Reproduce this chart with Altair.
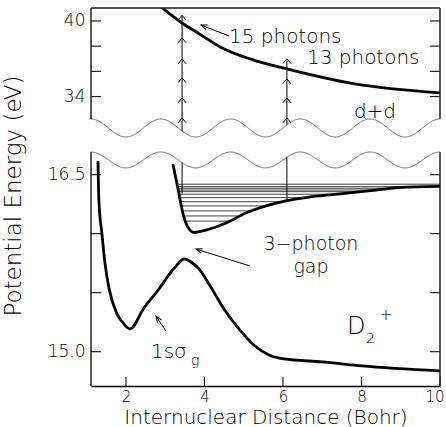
import altair as alt
import numpy as np
import pandas as pd

FONT = "DejaVu Sans"
FW = 200

XMIN, XMAX = 1.11, 10.0
TOP_DOM = [30.79, 41.03]
BOT_DOM = [14.709, 16.692]
W, H_TOP, H_BOT = 349, 129, 234

# ---------------- data ----------------
# repulsive d+d Coulomb curve seen with 13/15 photons (top panel)
upper_x = [2.90, 3.43, 3.86, 4.45, 5.20, 6.10, 7.83, 10.0]
upper_y = [41.10, 39.84, 39.00, 37.86, 36.95, 36.19, 35.00, 34.29]

# dressed 1s sigma_g curve (bottom panel)
sg_x = [1.287, 1.312, 1.389, 1.465, 1.567, 1.771, 1.949, 2.102, 2.459, 2.841, 3.146,
        3.350, 3.478, 3.656, 3.860, 4.115, 4.497, 4.879, 5.287, 5.643, 6.025, 6.994,
        8.013, 10.0]
sg_y = [16.616, 16.277, 15.997, 15.752, 15.540, 15.320, 15.235, 15.192, 15.370, 15.531,
        15.675, 15.752, 15.786, 15.760, 15.701, 15.574, 15.362, 15.193, 15.048, 14.972,
        14.938, 14.913, 14.879, 14.837]

# upper adiabatic well (bottom panel)
well_x = [3.197, 3.35, 3.452, 3.554, 3.732, 4.038, 4.548, 5.057, 5.567, 6.102,
          6.662, 7.248, 8.115, 8.955, 10.0]
well_y = [16.59, 16.34, 16.17, 16.07, 16.01, 16.03, 16.09, 16.175, 16.235, 16.28,
          16.31, 16.33, 16.36, 16.39, 16.40]

# vibrational levels in the upper well
levels = [16.419, 16.398, 16.385, 16.370, 16.356, 16.334, 16.305, 16.271,
          16.235, 16.193, 16.150, 16.106]

# photon ladders
ladder_R = [3.43, 6.10]
ladder_top = [40.45, 37.0]
ladder_low_end = [16.34, 16.28]
heads_left = [32.30, 33.89, 35.48, 36.98, 38.65, 40.45]
heads_right = [32.30, 33.89, 35.40, 37.0]

# axis ticks / labels
top_ticks = [34, 36, 38, 40]
top_labels = [34, 40]
bot_ticks = [15.0, 15.5, 16.0, 16.5]
bot_labels = [15.0, 16.5]
x_ticks = [2, 4, 6, 8, 10]

# ---------------- helpers ----------------
xsc = alt.Scale(domain=[XMIN, XMAX], nice=False, zero=False)
ytsc = alt.Scale(domain=TOP_DOM, nice=False, zero=False)
ybsc = alt.Scale(domain=BOT_DOM, nice=False, zero=False)

common_ax = dict(title=None, domain=False, ticks=False, tickSize=0, grid=False,
                 labelFontSize=17, labelPadding=6, labelColor="black", labelFont=FONT,
                 labelFontWeight=FW)
ax_top_y = alt.Axis(values=top_labels, format="d", **common_ax)
ax_bot_y = alt.Axis(values=bot_labels, format=".1f", **common_ax)
ax_bot_x = alt.Axis(values=x_ticks, format="d", title="Internuclear Distance (Bohr)",
                    domain=True, domainColor="black", domainWidth=1.5, ticks=False,
                    tickSize=0, grid=False, labelFontSize=15, labelPadding=3,
                    labelColor="black", labelFont=FONT, labelFontWeight=FW, labelFlush=True,
                    labelFlushOffset=4, titleFontSize=20, titleFontWeight=FW,
                    titleColor="black", titleFont=FONT, titleBaseline="alphabetic",
                    titleY=37)


def XT(f):
    return alt.X(f, type="quantitative", scale=xsc, axis=None)


def YT(f):
    return alt.Y(f, type="quantitative", scale=ytsc, axis=ax_top_y)


def XB(f):
    return alt.X(f, type="quantitative", scale=xsc, axis=ax_bot_x)


def YB(f):
    return alt.Y(f, type="quantitative", scale=ybsc, axis=ax_bot_y)


PERIOD = (XMAX - XMIN) / 5.0


def wave(x, c, a):
    return c + a * np.cos(2 * np.pi * (np.asarray(x) - XMIN) / PERIOD)


WT = (31.505, 0.715)
WB = (16.6245, 0.0675)
xw = np.linspace(XMIN, XMAX, 400)

CHEV = "M-1,1.2L0,0L1,1.2"
HEAD = "M-0.6,1.6L0,0L0.6,1.6"
FRAME = dict(color="#222222", strokeWidth=1.5)
TXT = dict(font=FONT, fontWeight=FW, color="black")

# ---------------- top panel ----------------
t_wave = alt.Chart(pd.DataFrame({"x": xw, "y": wave(xw, *WT)})).mark_line(
    color="#707070", strokeWidth=1).encode(x=XT("x"), y=YT("y"))

t_sides = alt.Chart(pd.DataFrame({"x": [XMIN, XMAX], "y": [wave(XMIN, *WT)] * 2,
                                  "y2": [TOP_DOM[1]] * 2})).mark_rule(**FRAME).encode(
    x=XT("x"), y=YT("y"), y2="y2")
t_topline = alt.Chart(pd.DataFrame({"x": [XMIN], "x2": [XMAX], "y": [TOP_DOM[1]]})).mark_rule(
    **FRAME).encode(x=XT("x"), x2="x2", y=YT("y"))

t_ticks_l = alt.Chart(pd.DataFrame({"v": top_ticks})).mark_rule(color="#222", strokeWidth=1.2).encode(
    y=YT("v"), x=alt.value(0), x2=alt.value(10))
t_ticks_r = alt.Chart(pd.DataFrame({"v": top_ticks})).mark_rule(color="#222", strokeWidth=1.2).encode(
    y=YT("v"), x=alt.value(W - 10), x2=alt.value(W))

t_curve = alt.Chart(pd.DataFrame({"x": upper_x, "y": upper_y})).mark_line(
    color="black", strokeWidth=2.8, clip=True, interpolate="monotone").encode(x=XT("x"), y=YT("y"))

t_cols = alt.Chart(pd.DataFrame({"x": ladder_R, "y": wave(ladder_R, *WT), "y2": ladder_top})).mark_rule(
    color="black", strokeWidth=1).encode(x=XT("x"), y=YT("y"), y2="y2")

heads_df = pd.DataFrame({"x": [ladder_R[0]] * len(heads_left) + [ladder_R[1]] * len(heads_right),
                         "y": heads_left + heads_right})
t_heads = alt.Chart(heads_df).mark_point(shape=CHEV, filled=False, size=64, strokeWidth=1,
                                         color="black", opacity=1).encode(x=XT("x"), y=YT("y"))

t_txt_left = alt.Chart(pd.DataFrame({"x": [4.624, 6.611], "y": [38.28, 36.56],
                                     "t": ["15 photons", "13 photons"]})).mark_text(
    align="left", baseline="alphabetic", fontSize=20, **TXT).encode(
    x=XT("x"), y=YT("y"), text="t:N")
t_txt_dd = alt.Chart(pd.DataFrame({"x": [8.344], "y": [32.30], "t": ["d+d"]})).mark_text(
    align="center", baseline="alphabetic", fontSize=20, **TXT).encode(
    x=XT("x"), y=YT("y"), text="t:N")

arrow1 = pd.DataFrame({"x": [4.624], "y": [38.81], "x2": [3.911], "y2": [39.68], "ang": [291.4]})
t_arr = alt.Chart(arrow1).mark_rule(color="black", strokeWidth=1).encode(
    x=XT("x"), y=YT("y"), x2="x2", y2="y2")
t_arr_head = alt.Chart(arrow1).mark_point(shape=HEAD, filled=False, size=64, strokeWidth=1,
                                          color="black", opacity=1).encode(
    x=XT("x2"), y=YT("y2"), angle=alt.Angle("ang:Q", scale=None))

top = alt.layer(t_wave, t_sides, t_topline, t_ticks_l, t_ticks_r, t_curve, t_cols, t_heads,
                t_txt_left, t_txt_dd, t_arr, t_arr_head).properties(width=W, height=H_TOP)

# ---------------- bottom panel ----------------
b_wave = alt.Chart(pd.DataFrame({"x": xw, "y": wave(xw, *WB)})).mark_line(
    color="#707070", strokeWidth=1).encode(x=XB("x"), y=YB("y"))

b_sides = alt.Chart(pd.DataFrame({"x": [XMIN, XMAX], "y": [BOT_DOM[0]] * 2,
                                  "y2": [wave(XMIN, *WB)] * 2})).mark_rule(**FRAME).encode(
    x=XB("x"), y=YB("y"), y2="y2")

b_ticks_l = alt.Chart(pd.DataFrame({"v": bot_ticks})).mark_rule(color="#222", strokeWidth=1.2).encode(
    y=YB("v"), x=alt.value(0), x2=alt.value(10))
b_ticks_r = alt.Chart(pd.DataFrame({"v": bot_ticks})).mark_rule(color="#222", strokeWidth=1.2).encode(
    y=YB("v"), x=alt.value(W - 10), x2=alt.value(W))
b_ticks_x = alt.Chart(pd.DataFrame({"v": x_ticks})).mark_rule(color="#222", strokeWidth=1.2).encode(
    x=XB("v"), y=alt.value(H_BOT - 9), y2=alt.value(H_BOT))

# ladder of levels
wy = np.array(well_y)
wx = np.array(well_x)
imin = int(np.argmin(wy))
left_x = np.interp(levels, wy[:imin + 1][::-1], wx[:imin + 1][::-1])
right_x = np.interp(levels, wy[imin:], wx[imin:])
b_levels = alt.Chart(pd.DataFrame({"x": left_x, "x2": right_x, "y": levels})).mark_rule(
    color="#111111", strokeWidth=0.8).encode(x=XB("x"), x2="x2", y=YB("y"))

b_cols = alt.Chart(pd.DataFrame({"x": ladder_R, "y": ladder_low_end,
                                 "y2": wave(ladder_R, *WB)})).mark_rule(
    color="black", strokeWidth=1).encode(x=XB("x"), y=YB("y"), y2="y2")

b_sg = alt.Chart(pd.DataFrame({"x": sg_x, "y": sg_y})).mark_line(
    color="black", strokeWidth=2.8, interpolate="monotone").encode(x=XB("x"), y=YB("y"))
b_well = alt.Chart(pd.DataFrame({"x": well_x, "y": well_y})).mark_line(
    color="black", strokeWidth=2.8, interpolate="monotone").encode(x=XB("x"), y=YB("y"))

arrows_b = pd.DataFrame({"x": [5.159, 3.019], "y": [15.726, 15.175],
                         "x2": [3.783, 2.764], "y2": [15.870, 15.302], "ang": [287.5, 326.3]})
b_arr = alt.Chart(arrows_b).mark_rule(color="black", strokeWidth=1).encode(
    x=XB("x"), y=YB("y"), x2="x2", y2="y2")
b_arr_head = alt.Chart(arrows_b).mark_point(shape=HEAD, filled=False, size=64, strokeWidth=1,
                                            color="black", opacity=1).encode(
    x=XB("x2"), y=YB("y2"), angle=alt.Angle("ang:Q", scale=None))

b_txt_c = alt.Chart(pd.DataFrame({"x": [6.713, 6.713], "y": [15.86, 15.665],
                                  "t": ["3\u2212photon", "gap"]})).mark_text(
    align="center", baseline="alphabetic", fontSize=19, **TXT).encode(
    x=XB("x"), y=YB("y"), text="t:N")

lab_df = pd.DataFrame({"x": [2.637, 3.656, 7.631, 8.115], "y": [14.949, 14.887, 15.15, 15.074],
                       "t": ["1s\u03c3", "g", "D", "2"], "fs": [20, 14, 24, 14]})
b_txt_l = alt.Chart(lab_df).mark_text(align="left", baseline="alphabetic", **TXT).encode(
    x=XB("x"), y=YB("y"), text="t:N", size=alt.Size("fs:Q", scale=None))
b_plus = alt.Chart(pd.DataFrame({"x": [8.624], "y": [15.31], "t": ["+"]})).mark_text(
    align="center", baseline="middle", fontSize=16, **TXT).encode(
    x=XB("x"), y=YB("y"), text="t:N")

ytitle = alt.Chart(pd.DataFrame({"t": ["Potential Energy (eV)"]})).mark_text(
    angle=270, align="center", baseline="alphabetic", fontSize=23, **TXT).encode(
    text="t:N", x=alt.value(-70), y=alt.value(44))

bottom = alt.layer(b_wave, b_sides, b_ticks_l, b_ticks_r, b_ticks_x, b_levels, b_cols,
                   b_sg, b_well, b_arr, b_arr_head, b_txt_c, b_txt_l, b_plus,
                   ytitle).properties(width=W, height=H_BOT)

chart = alt.vconcat(top, bottom, spacing=15, bounds="flush").properties(
    padding={"left": 2, "top": 7, "right": 0, "bottom": 0},
    background="white",
).configure_view(stroke=None)

chart.save("out.html", embed_options={"renderer": "svg", "actions": False})
